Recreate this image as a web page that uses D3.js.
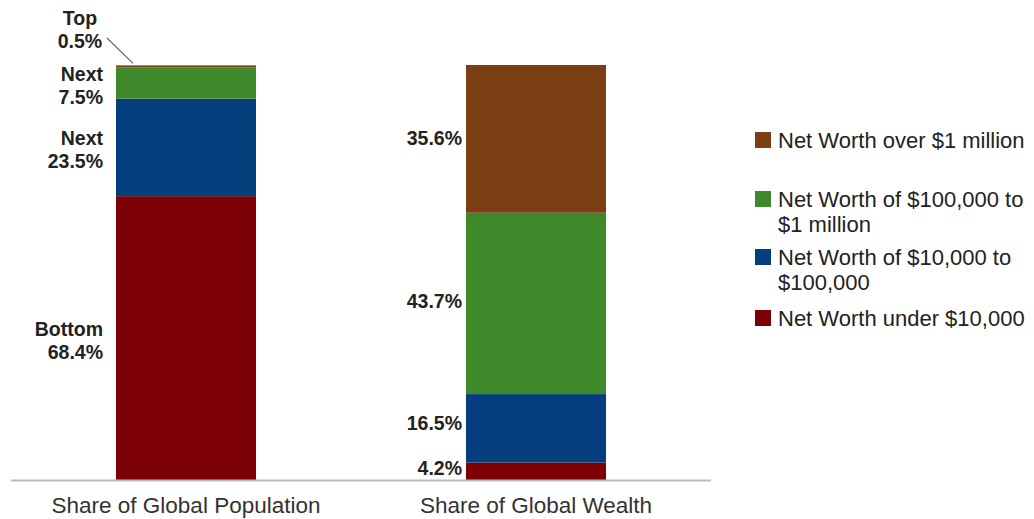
<!DOCTYPE html>
<html>
<head>
<meta charset="utf-8">
<script src="https://cdn.jsdelivr.net/npm/d3@7"></script>
<style>
  body { margin: 0; background: #fff; }
  text { font-family: "Liberation Sans", Arial, sans-serif; }
</style>
</head>
<body>
<div id="chart"></div>
<script>
(function() {
	var width = 1034, height = 519

	// data
	var categories = ["Share of Global Population", "Share of Global Wealth"]
	var series = ["Net Worth under $10,000", "Net Worth of $10,000 to $100,000", "Net Worth of $100,000 to $1 million", "Net Worth over $1 million"]
	var population = [68.4, 23.5, 7.5, 0.5]
	var wealth = [4.2, 16.5, 43.7, 35.6]
	var popNames = ["Bottom", "Next", "Next", "Top"]
	var legendLines = [["Net Worth over $1 million"], ["Net Worth of $100,000 to", "$1 million"], ["Net Worth of $10,000 to", "$100,000"], ["Net Worth under $10,000"]]
	var colors = ["#7c0006", "#043e7d", "#3e8a2a", "#7b3f13"]

	var svg = d3.select("#chart")
		.append("svg")
		.attr("width", width)
		.attr("height", height)

	var x = d3.scaleBand()
		.domain(categories)
		.range([11, 711])
		.paddingInner(0.6)
		.paddingOuter(0.3)

	var y = d3.scaleLinear()
		.domain([0, 100])
		.range([480, 65])

	var color = d3.scaleOrdinal().domain(series).range(colors)

	function stackUp(vals) {
		var acc = 0
		return vals.map(function(v, i) {
			var d = { key: series[i], y0: acc, y1: acc + v, v: v }
			acc += v
			return d
		})
	}

	var popStack = stackUp(population)
	var wStack = stackUp(wealth)

	// bars
	;[popStack, wStack].forEach(function(st, ci) {
		svg.selectAll(".bar" + ci)
			.data(st)
			.enter().append("rect")
			.attr("class", "bar" + ci)
			.attr("x", x(categories[ci]))
			.attr("width", x.bandwidth())
			.attr("y", function(d) { return y(d.y1) })
			.attr("height", function(d) { return y(d.y0) - y(d.y1) })
			.attr("fill", function(d) { return color(d.key) })
	})

	// baseline
	svg.append("line")
		.attr("x1", x.range()[0]).attr("x2", x.range()[1])
		.attr("y1", y(0) + 0.5).attr("y2", y(0) + 0.5)
		.attr("stroke", "#bbb")
		.attr("stroke-width", 2)

	// category labels
	svg.selectAll(".cat")
		.data(categories)
		.enter().append("text")
		.attr("class", "cat")
		.attr("x", function(d) { return x(d) + x.bandwidth() / 2 })
		.attr("y", 513)
		.attr("text-anchor", "middle")
		.attr("font-size", "22.5px")
		.attr("fill", "#333")
		.text(function(d) { return d })

	// population labels
	var lx = x(categories[0]) - 13
	popStack.forEach(function(d, i) {
		var cy = (y(d.y0) + y(d.y1)) / 2
		if (i === 3) {
			var t = svg.append("text")
				.attr("text-anchor", "middle")
				.attr("font-size", "19.5px")
				.attr("font-weight", "bold")
				.attr("fill", "#222")
			t.append("tspan").attr("x", 80).attr("y", 25).text(popNames[i])
			t.append("tspan").attr("x", 80).attr("y", 48).text(d.v + "%")
			svg.append("line")
				.attr("x1", 107).attr("y1", 38)
				.attr("x2", x(categories[0]) + 17).attr("y2", y(d.y1) - 2)
				.attr("stroke", "#666")
				.attr("stroke-width", 1.2)
		} else {
			var t2 = svg.append("text")
				.attr("text-anchor", "end")
				.attr("font-size", "19.5px")
				.attr("font-weight", "bold")
				.attr("fill", "#222")
			t2.append("tspan").attr("x", lx).attr("y", cy - 2).text(popNames[i])
			t2.append("tspan").attr("x", lx).attr("y", cy + 21).text(d.v + "%")
		}
	})

	// wealth labels
	var wOff = [4, 2, 5, 6]
	svg.selectAll(".wl")
		.data(wStack)
		.enter().append("text")
		.attr("class", "wl")
		.attr("x", x(categories[1]) - 4)
		.attr("y", function(d, i) { return (y(d.y0) + y(d.y1)) / 2 + wOff[i] })
		.attr("text-anchor", "end")
		.attr("font-size", "19.5px")
		.attr("font-weight", "bold")
		.attr("fill", "#222")
		.text(function(d) { return d.v + "%" })

	// legend
	var legendTop = [132, 191, 249, 310]
	var order = [3, 2, 1, 0]
	var lg = svg.append("g")
	order.forEach(function(si, k) {
		lg.append("rect")
			.attr("x", 755).attr("y", legendTop[k])
			.attr("width", 16).attr("height", 16)
			.attr("fill", colors[si])
		var t = lg.append("text")
			.attr("font-size", "22px")
			.attr("fill", "#222")
		legendLines[k].forEach(function(line, j) {
			t.append("tspan")
				.attr("x", 778)
				.attr("y", legendTop[k] + 16 + j * 25)
				.text(line)
		})
	})
})();
</script>
</body>
</html>
